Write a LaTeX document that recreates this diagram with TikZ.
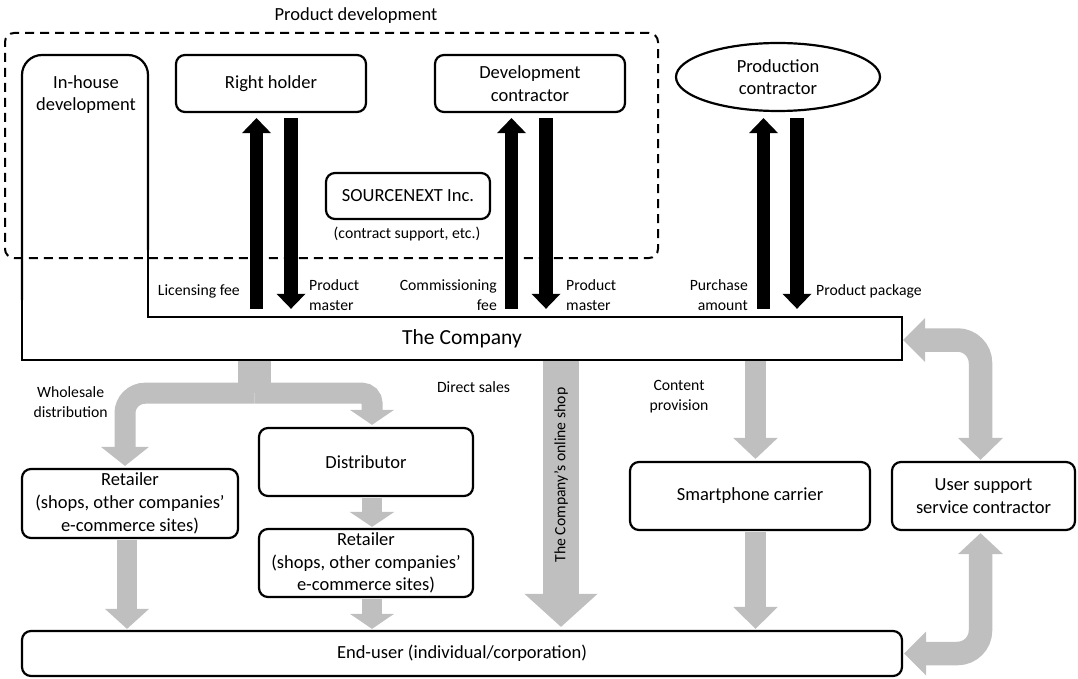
\documentclass[tikz,border=0pt]{standalone}
\usepackage{fontspec}
\setmainfont{Carlito}
\usetikzlibrary{arrows.meta,shapes.geometric,calc}
\definecolor{arrowgray}{HTML}{BFBFBF}
\begin{document}
\begin{tikzpicture}[x=1pt,y=-1pt,
  bigtext/.style={font=\fontsize{18.5}{22.7}\selectfont},
  smalltext/.style={font=\fontsize{15.7}{20}\selectfont, inner sep=0pt},
  rbox/.style={draw, line width=2.2pt, rounded corners=9pt, fill=white, align=center, inner sep=0pt, bigtext},
  dashbox/.style={draw, dash pattern=on 9pt off 6pt, line width=2pt, rounded corners=9pt, inner sep=0pt},
  blk/.style={line width=13.5pt, -{Triangle[width=29pt,length=15pt,line width=0pt]}},
  gry/.style={draw=arrowgray, line width=21pt},
  outl/.style={line width=2.2pt}
]
\useasboundingbox (0,0) rectangle (1078,679);

% product development frame
\node[dashbox, minimum width=653pt, minimum height=225pt] (pd) at (331.5,145.5) {};
\node[bigtext, inner sep=0pt] (pdl) at (356,16) {Product development};

% company outline (with in-house development)
\draw[outl, rounded corners=20pt] (22,300) -- (22,55) -- (148,55) -- (148,250);
\draw[outl] (148,249) -- (148,317) -- (902,317) -- (902,360) -- (22,360) -- (22,299);
\node[bigtext, align=center, inner sep=0pt] (ih) at (86,94.5) {In-house\\development};
\node[minimum width=880pt, minimum height=43pt, inner sep=0pt, font=\fontsize{21.5}{25}\selectfont] (co) at (462,338.5) {The Company};

% upper boxes
\node[rbox, minimum width=190pt, minimum height=57pt] (rh) at (271,83.5) {Right holder};
\node[rbox, minimum width=190pt, minimum height=57pt] (dc) at (530,83.5) {Development\\contractor};
\node[draw, ellipse, line width=2.2pt, minimum width=204pt, minimum height=68pt, inner sep=0pt, align=center, bigtext] (pc) at (778,77) {Production\\contractor};
\node[rbox, minimum width=164pt, minimum height=46pt] (sn) at (408,196) {SOURCENEXT Inc.};
\node[smalltext] (snn) at (407,234) {(contract support, etc.)};

% black arrows
\draw[blk] ($(rh.south |- co.north)+(-14.5,-8)$) -- ($(rh.south)+(-14.5,5)$);
\draw[blk] ($(rh.south)+(20,5)$) -- ($(rh.south |- co.north)+(20,-8)$);
\draw[blk] ($(dc.south |- co.north)+(-18.5,-8)$) -- ($(dc.south)+(-18.5,5)$);
\draw[blk] ($(dc.south)+(16,5)$) -- ($(dc.south |- co.north)+(16,-8)$);
\draw[blk] ($(pc.south |- co.north)+(-14.5,-8)$) -- ($(pc.south)+(-14.5,6)$);
\draw[blk] ($(pc.south)+(19,6)$) -- ($(pc.south |- co.north)+(19,-8)$);

% labels of black arrows
\node[smalltext, anchor=east] (lf) at (240,291) {Licensing fee};
\node[smalltext, anchor=west, align=left] (pm1) at (309,295) {Product\\master};
\node[smalltext, anchor=east, align=right] (cf) at (497,295) {Commissioning\\fee};
\node[smalltext, anchor=west, align=left] (pm2) at (566,295) {Product\\master};
\node[smalltext, anchor=east, align=right] (pa) at (748,295) {Purchase\\amount};
\node[smalltext, anchor=west] (pp) at (816,291) {Product package};

% lower boxes
\node[rbox, minimum width=216pt, minimum height=69pt] (r1) at (130,503.5) {Retailer\\(shops, other companies’\\e-commerce sites)};
\node[rbox, minimum width=214pt, minimum height=68pt] (ds) at (366,462) {Distributor};
\node[rbox, minimum width=214pt, minimum height=68pt] (r2) at (366,563) {Retailer\\(shops, other companies’\\e-commerce sites)};
\node[rbox, minimum width=240pt, minimum height=68pt] (sc) at (750,496) {Smartphone carrier};
\node[rbox, minimum width=183pt, minimum height=68pt] (us) at (983.5,496) {User support\\service contractor};
\node[rbox, minimum width=880pt, minimum height=45pt] (eu) at (462,653.5) {End-user (individual/corporation)};

% wholesale distribution
\draw[draw=arrowgray, line width=33pt] ($(co.south)+(-207.5,1.1)$) coordinate (wsT) -- ($(co.south)+(-207.5,33)$) coordinate (wsJ);
\draw[gry, rounded corners=20pt, -{Triangle[width=48pt,length=19pt,line width=0pt]}] (wsJ) -| ($(r1.north)+(-5,-2)$);
\draw[gry, rounded corners=10pt, -{Triangle[width=44pt,length=15pt,line width=0pt]}] (wsJ) -| ($(ds.north)+(6,-2)$);
\draw[gry, line width=20.5pt, -{Triangle[width=44.6pt,length=15pt,line width=0pt]}] ($(ds.south)+(6,1.1)$) -- ($(r2.north)+(6,-1)$);
\draw[gry, line width=20.5pt, -{Triangle[width=44pt,length=15pt,line width=0pt]}] ($(r2.south)+(6,1.1)$) -- ($(r2.south |- eu.north)+(6,-1)$);
\draw[gry, line width=19.5pt, -{Triangle[width=44pt,length=20pt,line width=0pt]}] ($(r1.south)+(-3,1.1)$) -- ($(r1.south |- eu.north)+(-3,-1)$);

% direct sales (online shop)
\draw[gry, line width=36pt, -{Triangle[width=73pt,length=33pt,line width=0pt]}] ($(co.south)+(99,1.1)$) -- ($(eu.north)+(99,-3)$);
\node[smalltext, rotate=90] (osl) at (561,475) {The Company’s online shop};

% content provision
\draw[gry, line width=21.5pt, -{Triangle[width=44.5pt,length=21pt,line width=0pt]}] ($(co.south)+(293.5,1.1)$) -- ($(sc.north)+(5.5,-2)$);
\draw[gry, line width=21.5pt, -{Triangle[width=44.5pt,length=22pt,line width=0pt]}] ($(sc.south)+(5.5,1.1)$) -- ($(sc.south |- eu.north)+(5.5,-1)$);

% user support
\draw[gry, line width=23.5pt, rounded corners=23pt, {Triangle[width=44pt,length=22pt,line width=0pt]}-{Triangle[width=45pt,length=22pt,line width=0pt]}] ($(co.east)+(1,1.5)$) -| ($(us.north)+(-3,-1)$);
\draw[gry, line width=23.5pt, rounded corners=23pt, {Triangle[width=45pt,length=21pt,line width=0pt]}-{Triangle[width=44pt,length=22pt,line width=0pt]}] ($(us.south)+(-3,2)$) |- ($(eu.east)+(1,0)$);

% other labels
\node[smalltext, align=center] (wd) at (70.6,402) {Wholesale\\distribution};
\node[smalltext] (dsl) at (473.5,387) {Direct sales};
\node[smalltext, align=center] (cp) at (679,396.5) {Content\\provision};
\end{tikzpicture}
\end{document}
